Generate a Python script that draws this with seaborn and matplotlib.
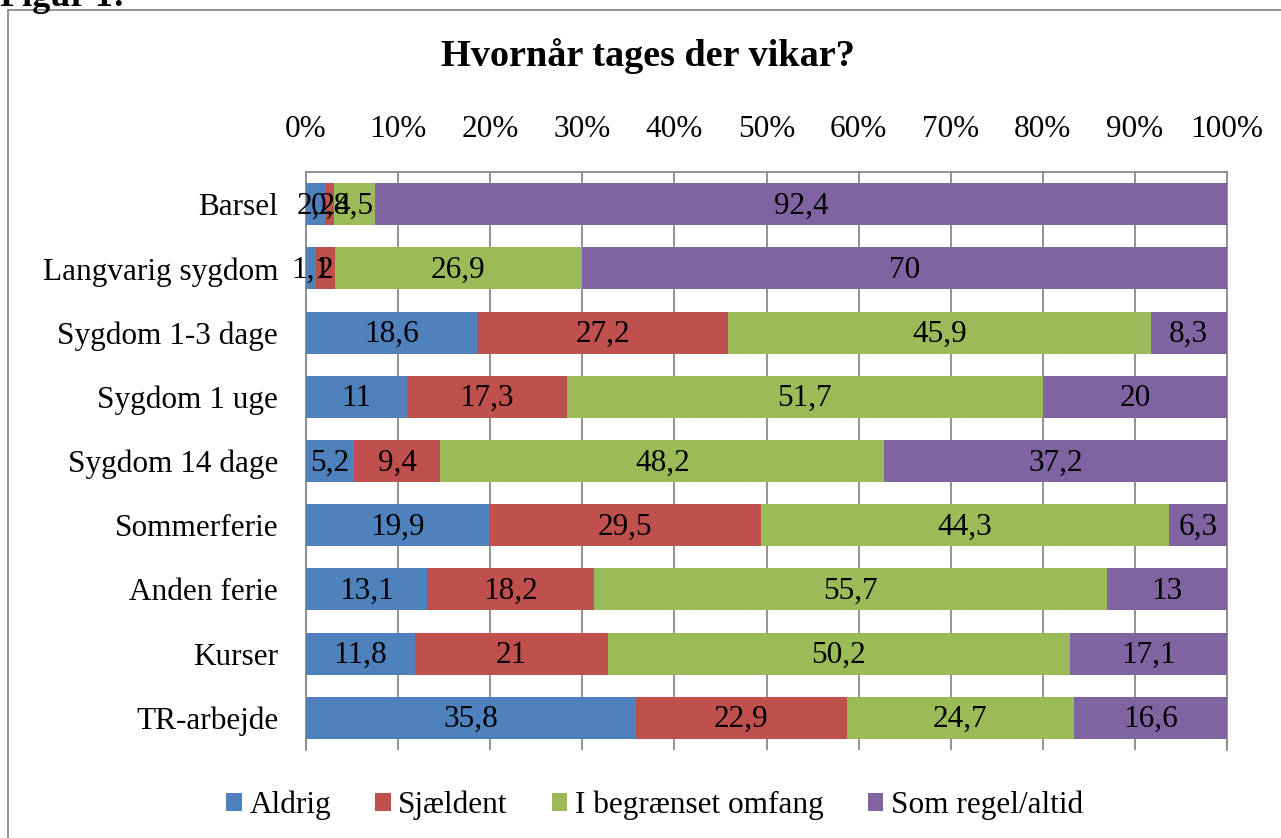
import matplotlib
matplotlib.use("Agg")
import matplotlib.pyplot as plt
import numpy as np
import pandas as pd
import seaborn as sns
from matplotlib.lines import Line2D
from matplotlib.patches import Patch

# data (percent, Danish decimal comma in labels)
categories = ['Barsel', 'Langvarig sygdom', 'Sygdom 1-3 dage', 'Sygdom 1 uge',
              'Sygdom 14 dage', 'Sommerferie', 'Anden ferie', 'Kurser', 'TR-arbejde']
series = ['Aldrig', 'Sjældent', 'I begrænset omfang', 'Som regel/altid']
aldrig = [2.2, 1.1, 18.6, 11, 5.2, 19.9, 13.1, 11.8, 35.8]
sjaeldent = [0.8, 2, 27.2, 17.3, 9.4, 29.5, 18.2, 21, 22.9]
begraenset = [4.5, 26.9, 45.9, 51.7, 48.2, 44.3, 55.7, 50.2, 24.7]
som_regel = [92.4, 70, 8.3, 20, 37.2, 6.3, 13, 17.1, 16.6]
colors = ['#4F81BD', '#C0504D', '#9BBB59', '#8064A2']

FS = 22.5

sns.set_style('white')
plt.rcParams['font.family'] = ['Liberation Serif', 'DejaVu Serif']
plt.rcParams['text.color'] = 'black'
plt.rcParams['xtick.color'] = 'black'
plt.rcParams['ytick.color'] = 'black'

df = pd.DataFrame({'category': categories, 'Aldrig': aldrig, 'Sjældent': sjaeldent,
                   'I begrænset omfang': begraenset, 'Som regel/altid': som_regel})
vals = df[series].to_numpy(dtype=float)
# 100 % stacked: normalise each row
pct = vals / vals.sum(axis=1, keepdims=True) * 100
cum = np.cumsum(pct, axis=1)

fig = plt.figure(figsize=(12.81, 8.38), dpi=100)
ax = fig.add_axes([306 / 1281, 1 - 750 / 838, (1227 - 306) / 1281, (750 - 172) / 838])

# draw the cumulative totals from the longest down so each segment shows
for k in range(len(series) - 1, -1, -1):
    sns.barplot(x=cum[:, k], y=df['category'], color=colors[k], saturation=1,
                width=0.655, orient='h', ax=ax, linewidth=0, zorder=3)

for i in range(len(categories)):
    for k in range(len(series)):
        centre = cum[i, k] - pct[i, k] / 2
        txt = f'{vals[i, k]:g}'.replace('.', ',')
        ax.text(centre, i + 0.03, txt, ha='center', va='center', fontsize=FS, zorder=5)

ax.set_xlim(0, 100)
ax.set_xticks(np.arange(0, 101, 10))
ax.set_xticklabels([f'{t}%' for t in range(0, 101, 10)], fontsize=FS)
ax.xaxis.tick_top()
ax.tick_params(axis='x', length=0, pad=20)
ax.tick_params(axis='y', length=0, pad=20, labelsize=FS)
ax.set_xlabel('')
ax.set_ylabel('')
ax.grid(axis='x', color='#8a8a8a', linewidth=1.3, zorder=0)
ax.set_axisbelow(True)
for side in ['top', 'left', 'right']:
    ax.spines[side].set_color('#8a8a8a')
    ax.spines[side].set_linewidth(1.3)
ax.spines['bottom'].set_visible(False)

handles = [Patch(facecolor=c, edgecolor='none') for c in colors]
fig.legend(handles, series, loc='center', bbox_to_anchor=(0.511, 1 - 805 / 838), ncol=4,
           frameon=False, fontsize=FS, handlelength=0.5, handleheight=0.5,
           handletextpad=0.25, columnspacing=1.4)

fig.text(648 / 1281, 1 - 56 / 838, 'Hvornår tages der vikar?', ha='center', va='center',
         fontsize=27.5, fontweight='bold')
# the caption above the frame is cut off by the top of the picture
fig.text(0.0, 1 - 6 / 838, 'Figur 1:', ha='left', va='baseline', fontsize=26, fontweight='bold')

# outer chart frame (continues past the right and bottom edges)
fig.add_artist(Line2D([8 / 1281, 8 / 1281], [0, 1 - 10 / 838], transform=fig.transFigure,
                      color='#8a8a8a', linewidth=1.3))
fig.add_artist(Line2D([8 / 1281, 1], [1 - 10 / 838, 1 - 10 / 838], transform=fig.transFigure,
                      color='#8a8a8a', linewidth=1.3))

fig.savefig('out.png', dpi=100)
